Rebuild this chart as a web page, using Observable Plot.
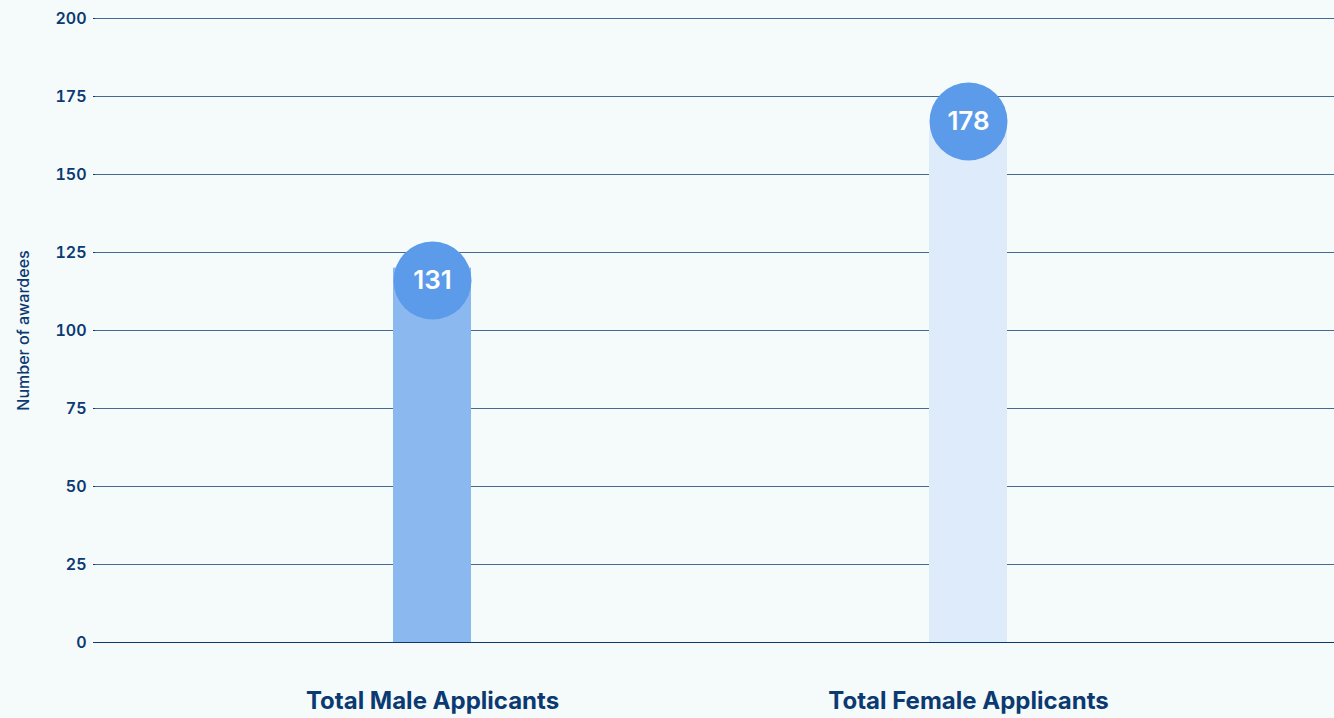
<!DOCTYPE html>
<html>
<head>
<meta charset="utf-8">
<script src="https://cdn.jsdelivr.net/npm/d3@7"></script>
<script src="https://cdn.jsdelivr.net/npm/@observablehq/plot@0.6"></script>
<style>
  html, body { margin: 0; padding: 0; background: #f5fafb; }
  #chart svg { display: block; background: #f5fafb; }
  #chart [aria-label="y-axis label"] text { font-size: 16px; font-weight: 500; }
</style>
</head>
<body>
<div id="chart"></div>
<script>
const categories = ["Total Male Applicants", "Total Female Applicants"];
const labels = [131, 178];
const barTops = [120, 164];
const bubbleCenters = [116, 167];
const barColors = ["#8cb8f0", "#deebfb"];
const yTicks = [0, 25, 50, 75, 100, 125, 150, 175, 200];

const rows = categories.map((c, i) => ({
  category: c, label: labels[i], bar: barTops[i], bubble: bubbleCenters[i], color: barColors[i]
}));

const navy = "#0b3a72";
const chart = Plot.plot({
  width: 1334,
  height: 718,
  marginLeft: 95,
  marginRight: 0,
  marginTop: 18,
  marginBottom: 76,
  style: { fontFamily: "Inter, 'Open Sans', sans-serif", color: navy, background: "#f5fafb" },
  x: { domain: categories, range: [393, 1007], paddingInner: 0.8545, paddingOuter: 0, label: null },
  y: { domain: [0, 200], label: null },
  marks: [
    Plot.ruleY(yTicks.filter(d => d > 0), { stroke: navy, strokeOpacity: 0.75, strokeWidth: 1 }),
    Plot.barY(rows, { x: "category", y: "bar", fill: "color" }),
    Plot.ruleY([0], { stroke: navy, strokeWidth: 1.2 }),
    Plot.dot(rows, { x: "category", y: "bubble", r: 39, fill: "#5b9bea" }),
    Plot.text(rows, { x: "category", y: "bubble", text: d => String(d.label), fill: "white", fontSize: 26, fontWeight: 600 }),
    Plot.axisY({ ticks: yTicks, tickSize: 2, tickPadding: 7, fontSize: 16, fontWeight: 600, tickFormat: d => d, label: null, stroke: navy }),
    Plot.axisY({ ticks: [], label: "Number of awardees", labelAnchor: "center", labelArrow: "none", labelOffset: 78 }),
    Plot.axisX({ tickSize: 0, tickPadding: 49, fontSize: 24, fontWeight: 700, label: null })
  ]
});
document.getElementById("chart").appendChild(chart);
</script>
</body>
</html>
